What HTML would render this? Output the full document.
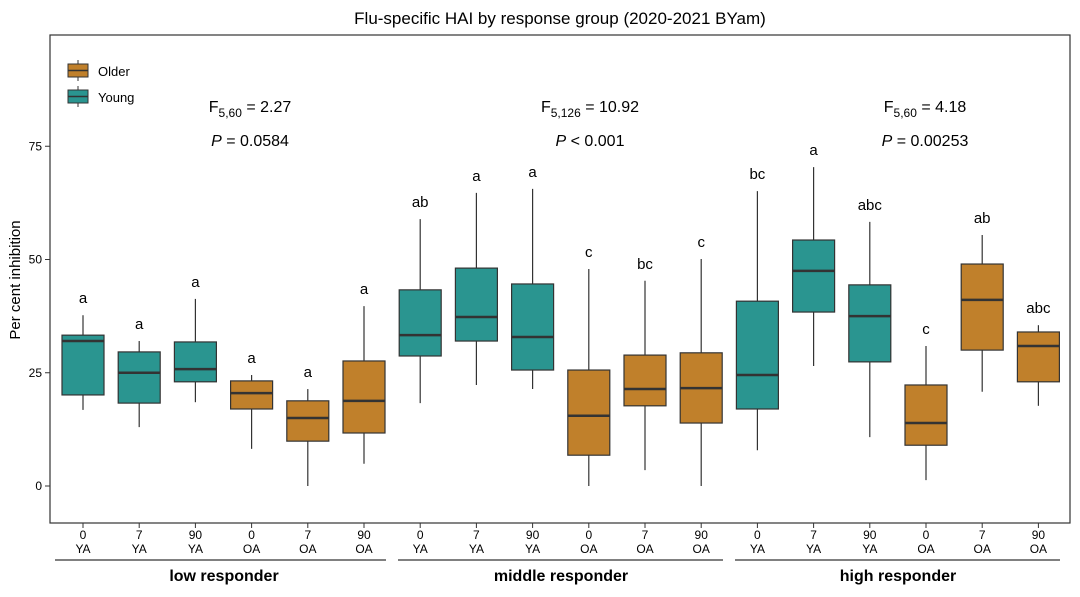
<!DOCTYPE html>
<html><head><meta charset="utf-8"><style>
body{margin:0;background:#fff;font-family:"Liberation Sans",sans-serif}
svg text{font-family:"Liberation Sans",sans-serif}
</style></head><body>
<svg id="c" width="1080" height="592" xmlns="http://www.w3.org/2000/svg">
<text x="560" y="24" text-anchor="middle" font-size="17">Flu-specific HAI by response group (2020-2021 BYam)</text>
<rect x="50" y="35" width="1020" height="488" fill="none" stroke="#333" stroke-width="1.2"/>
<text transform="translate(20,280) rotate(-90)" text-anchor="middle" font-size="15">Per cent inhibition</text>
<g id="axes"></g><g id="boxes"></g>
<g>
<line x1="78" y1="60" x2="78" y2="81" stroke="#333"/><rect x="68" y="64" width="20" height="13" fill="#c0802b" stroke="#333"/><line x1="68" y1="70.5" x2="88" y2="70.5" stroke="#333" stroke-width="1.5"/>
<text x="98" y="76" font-size="13">Older</text>
<line x1="78" y1="86" x2="78" y2="107" stroke="#333"/><rect x="68" y="90" width="20" height="13" fill="#2a9590" stroke="#333"/><line x1="68" y1="96.5" x2="88" y2="96.5" stroke="#333" stroke-width="1.5"/>
<text x="98" y="102" font-size="13">Young</text>
</g>
<g font-size="16" text-anchor="middle">
<text x="250" y="112">F<tspan font-size="12" dy="5">5,60</tspan><tspan dy="-5"> = 2.27</tspan></text>
<text x="250" y="146"><tspan font-style="italic">P</tspan> = 0.0584</text>
<text x="590" y="112">F<tspan font-size="12" dy="5">5,126</tspan><tspan dy="-5"> = 10.92</tspan></text>
<text x="590" y="146"><tspan font-style="italic">P</tspan> &lt; 0.001</text>
<text x="925" y="112">F<tspan font-size="12" dy="5">5,60</tspan><tspan dy="-5"> = 4.18</tspan></text>
<text x="925" y="146"><tspan font-style="italic">P</tspan> = 0.00253</text>
</g>
<g font-size="16" font-weight="bold" text-anchor="middle">
<line x1="55" y1="560" x2="386" y2="560" stroke="#000"/><text x="224" y="581">low responder</text>
<line x1="398" y1="560" x2="723" y2="560" stroke="#000"/><text x="561" y="581">middle responder</text>
<line x1="735" y1="560" x2="1060" y2="560" stroke="#000"/><text x="898" y="581">high responder</text>
</g>
</svg>
<script>
const days=["0","7","90","0","7","90","0","7","90","0","7","90","0","7","90","0","7","90"];
const ages=["YA","YA","YA","OA","OA","OA","YA","YA","YA","OA","OA","OA","YA","YA","YA","OA","OA","OA"];
const wLow=[16.8,13,18.5,8.2,0,4.9,18.3,22.3,21.4,0,3.5,0,7.9,26.5,10.8,1.3,20.8,17.7];
const q1=[20.1,18.3,23,17,9.9,11.7,28.7,32,25.6,6.8,17.7,13.9,17,38.4,27.4,9,30,23];
const med=[32,25,25.8,20.5,15,18.8,33.3,37.3,32.9,15.5,21.4,21.6,24.5,47.5,37.5,13.9,41.1,30.9];
const q3=[33.3,29.6,31.8,23.2,18.8,27.6,43.3,48.1,44.6,25.6,28.9,29.4,40.8,54.3,44.4,22.3,49,34];
const wHigh=[37.7,32,41.3,24.5,21.4,39.7,58.9,64.7,65.6,47.9,45.3,50.1,65.1,70.4,58.3,30.9,55.4,35.5];
const letters=["a","a","a","a","a","a","ab","a","a","c","bc","c","bc","a","abc","c","ab","abc"];
const yTicks=[0,25,50,75];
const NS="http://www.w3.org/2000/svg";
const y=v=>486-v*4.53;
const x=i=>83+i*56.2;
function mk(t,a,p){const e=document.createElementNS(NS,t);for(const k in a)e.setAttribute(k,a[k]);p.appendChild(e);return e;}
const ax=document.getElementById('axes'),bx=document.getElementById('boxes');
yTicks.forEach(t=>{
 const l=mk('line',{x1:45,x2:50,y1:y(t),y2:y(t),stroke:'#333'},ax);
 
 
 const tx=mk('text',{x:42,y:y(t)+4,'text-anchor':'end','font-size':12},ax);tx.textContent=t;
 
 
});
days.forEach((d,i)=>{
 const cx=x(i);
 mk('line',{x1:cx,x2:cx,y1:523,y2:528,stroke:'#333'},ax);
 const a=mk('text',{x:cx,y:539,'text-anchor':'middle','font-size':12},ax);a.textContent=d;
 
 
 const b=mk('text',{x:cx,y:553,'text-anchor':'middle','font-size':12},ax);b.textContent=ages[i];
 
 
 const g=mk('g',{},bx);
 
 
 mk('line',{x1:cx,x2:cx,y1:y(wLow[i]),y2:y(wHigh[i]),stroke:'#333','stroke-width':1.2},g);
 mk('rect',{x:cx-21,y:y(q3[i]),width:42,height:y(q1[i])-y(q3[i]),fill:ages[i]=="YA"?'#2a9590':'#c0802b',stroke:'#333','stroke-width':1.2},g);
 mk('line',{x1:cx-21,x2:cx+21,y1:y(med[i]),y2:y(med[i]),stroke:'#333','stroke-width':2.5},g);
 const lt=mk('text',{x:cx,y:y(wHigh[i])-12,'text-anchor':'middle','font-size':15},g);lt.textContent=letters[i];
 
 
});
</script>
</body></html>
